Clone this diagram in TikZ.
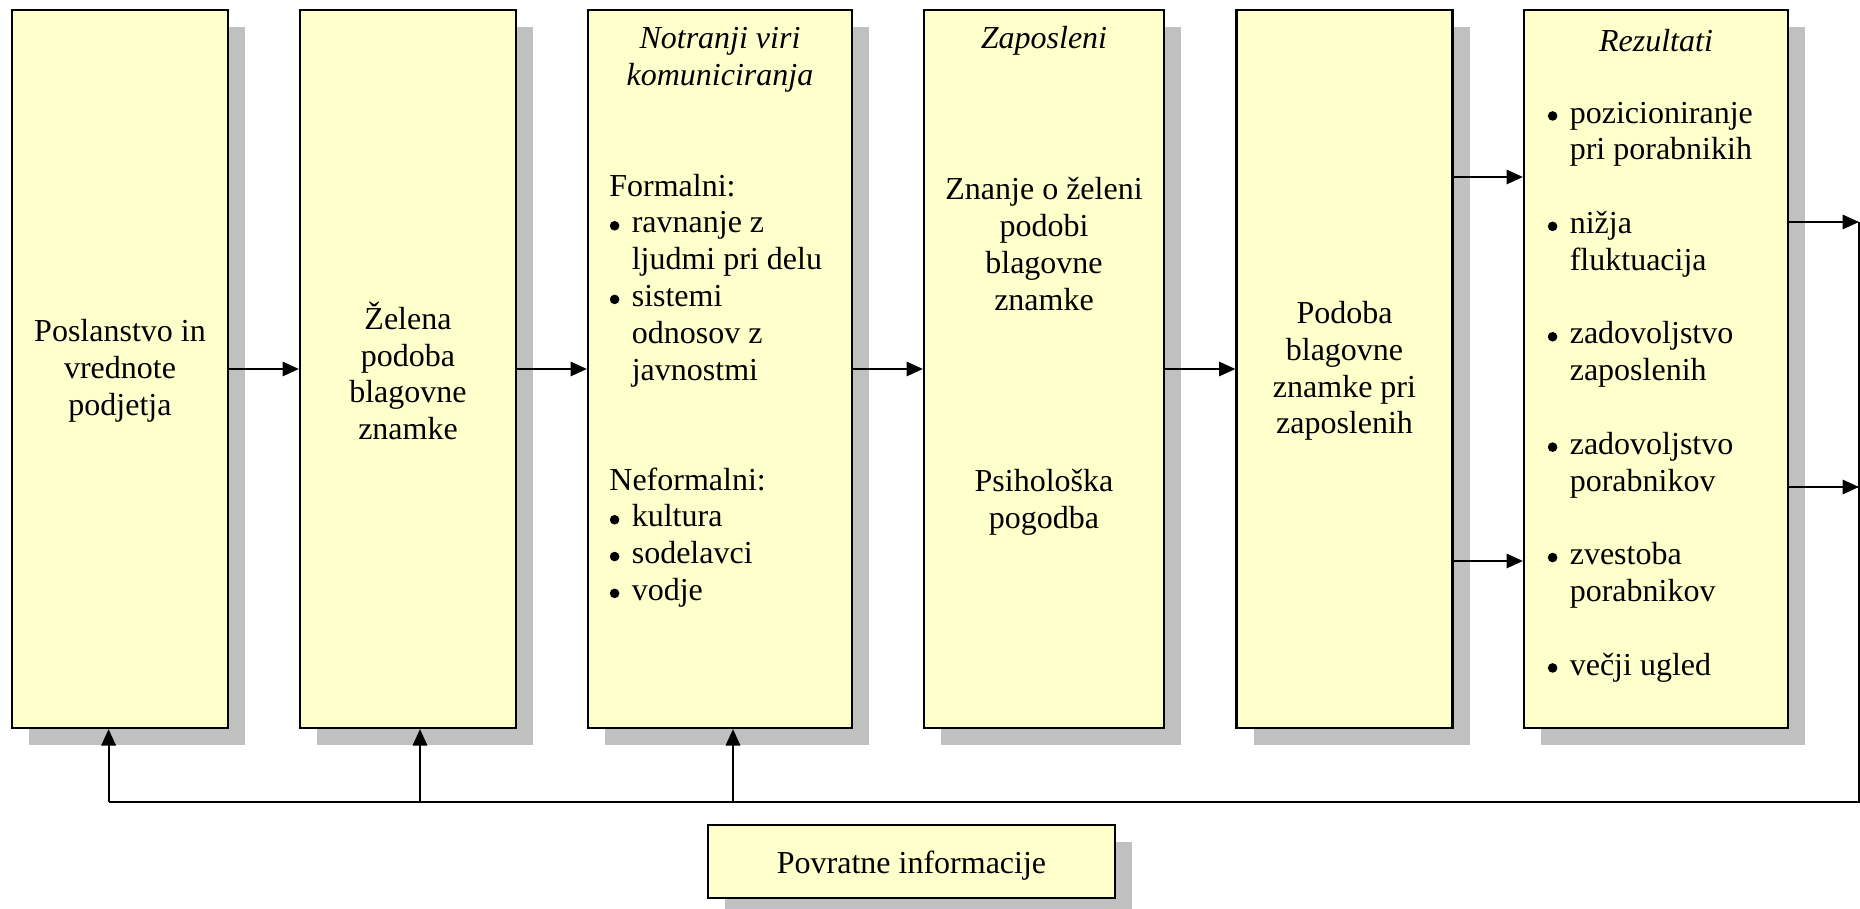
\documentclass[tikz,border=0pt]{standalone}
\usepackage{fontspec}
\setmainfont{Liberation Serif}
\usetikzlibrary{arrows.meta,shadows}
\definecolor{boxfill}{HTML}{FFFFCC}
\definecolor{shadowgray}{HTML}{C0C0C0}
\newcommand\basefont{\fontsize{16}{18.4}\selectfont}
% round list bullet and hanging indent for continuation lines
\newcommand\bul{\makebox[11.2pt][l]{\hspace{0.2pt}\tikz[baseline=0pt]\fill (2.4pt,3.6pt) circle (2.4pt);}}
\newcommand\cont{\hspace*{11.2pt}}
\begin{document}
\begin{tikzpicture}[x=0.5pt,y=-0.5pt,font=\basefont,
  box/.style={draw=black, line width=1.1pt, fill=boxfill, inner sep=0pt,
    drop shadow={shadow xshift=8.5pt, shadow yshift=-8.5pt, fill=shadowgray, opacity=1}},
  big/.style={box, minimum height=359pt},
  txt/.style={inner sep=0pt, align=center},
  ital/.style={font=\basefont\itshape},
  lst/.style={inner sep=0pt, align=left, anchor=west},
  wire/.style={line width=1pt},
  arr/.style={line width=1pt, -{Triangle[length=8.2pt,width=7.2pt]}}]
\useasboundingbox (0,0) rectangle (1860,909);

% main boxes
\node[big, minimum width=108pt] (b1) at (120,369) {};
\node[big, minimum width=108pt] (b2) at (408,369) {};
\node[big, minimum width=132pt] (b3) at (720,369) {};
\node[big, minimum width=120pt] (b4) at (1044,369) {};
\node[big, minimum width=108pt] (b5) at (1344.5,369) {};
\node[big, minimum width=132pt] (b6) at (1656,369) {};
\node[box, minimum width=203.5pt, minimum height=36.5pt] (fb) at (911.5,861.5) {};

% box texts
\node[txt] (t1) at (120,371) {Poslanstvo in\\vrednote\\podjetja};
\node[txt] (t2) at (408,371) {Želena\\podoba\\blagovne\\znamke};

\node[txt, ital] (t3h) at (720,60) {Notranji viri\\komuniciranja};
\node[lst] (t3a) at (609,280.5) {Formalni:\\
  \bul ravnanje z\\
  \cont ljudmi pri delu\\
  \bul sistemi\\
  \cont odnosov z\\
  \cont javnostmi};
\node[lst] (t3b) at (609,537.5) {Neformalni:\\
  \bul kultura\\
  \bul sodelavci\\
  \bul vodje};

\node[txt, ital] (t4h) at (1044,41) {Zaposleni};
\node[txt] (t4a) at (1044,244) {Znanje o želeni\\podobi\\blagovne\\znamke};
\node[txt] (t4b) at (1044,502.5) {Psihološka\\pogodba};

\node[txt] (t5) at (1344.5,371) {Podoba\\blagovne\\znamke pri\\zaposlenih};

\node[txt, ital] (t6h) at (1656,41) {Rezultati};
\node[lst] (t6) at (1547,392) {\bul pozicioniranje\\
  \cont pri porabnikih\\[18.4pt]
  \bul nižja\\
  \cont fluktuacija\\[18.4pt]
  \bul zadovoljstvo\\
  \cont zaposlenih\\[18.4pt]
  \bul zadovoljstvo\\
  \cont porabnikov\\[18.4pt]
  \bul zvestoba\\
  \cont porabnikov\\[18.4pt]
  \bul večji ugled};

\node[txt] (tf) at (911.5,865.5) {Povratne informacije};

% forward flow
\draw[arr] (b1.east) -- (b2.west);
\draw[arr] (b2.east) -- (b3.west);
\draw[arr] (b3.east) -- (b4.west);
\draw[arr] (b4.east) -- (b5.west);
\coordinate (u1) at (1490,177);
\coordinate (u2) at (1490,561);
\draw[arr] (b5.east |- u1) -- (b6.west |- u1);
\draw[arr] (b5.east |- u2) -- (b6.west |- u2);

% outputs and feedback loop
\coordinate (r1) at (1859,222);
\coordinate (r2) at (1859,487);
\coordinate (rb) at (1859,802);
\coordinate (fl) at (108.6,802);
\coordinate (fm) at (420,802);
\coordinate (fr) at (733,802);
\draw[arr] (b6.east |- r1) -- (r1);
\draw[arr] (b6.east |- r2) -- (r2);
\draw[wire] (r1) -- (rb) -- (fl);
\draw[arr] (fl) -- (fl |- b1.south);
\draw[arr] (fm) -- (fm |- b2.south);
\draw[arr] (fr) -- (fr |- b3.south);
\end{tikzpicture}
\end{document}
